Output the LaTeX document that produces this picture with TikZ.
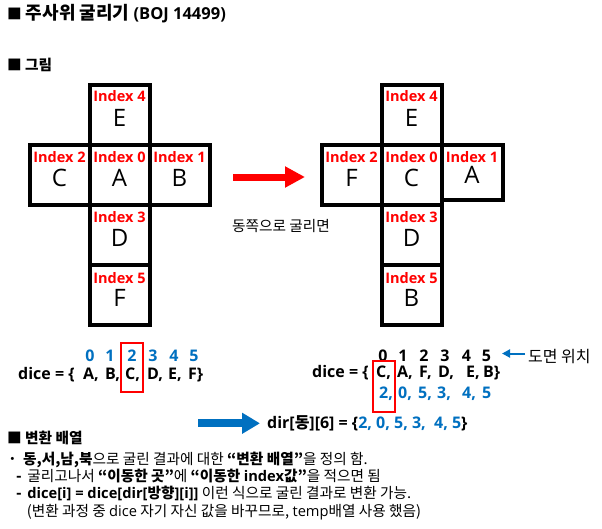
\documentclass[tikz,border=0pt]{standalone}
\usepackage{fontspec}
\setmainfont{Open Sans}
\newfontfamily\kr{Noto Sans CJK KR}
\usetikzlibrary{arrows.meta}
\definecolor{pptblue}{HTML}{0070C0}
\newcommand\sz[1]{\fontsize{#1}{#1}\selectfont}
\tikzset{
	face/.style={draw, line width=4pt, minimum width=60pt, minimum height=60pt, inner sep=0pt, text height=22pt, text depth=0pt, font=\sz{24}},
	idx/.style={text=red, anchor=base, inner sep=0pt, font=\bfseries\sz{14.5}},
	cell/.style={anchor=base west, inner sep=0pt, font=\bfseries\sz{16}},
	slot/.style={anchor=base, inner sep=0pt, font=\bfseries\sz{16}},
	selbox/.style={draw=red, line width=1.3pt, minimum width=22pt, minimum height=49pt, inner sep=0pt},
	head/.style={anchor=base west, inner sep=0pt, font=\kr\bfseries\sz{14.67}},
	txt/.style={anchor=base west, inner sep=0pt, font=\kr\sz{14.67}},
	roll/.style={draw=red, line width=7pt, -{Triangle[length=20pt,width=20pt]}},
	dirarrow/.style={draw=pptblue, line width=8pt, -{Triangle[length=18pt,width=20pt]}},
	posarrow/.style={draw=pptblue, line width=2pt, -{Triangle[length=8pt,width=8pt]}}
}
\begin{document}
\begin{tikzpicture}[x=1pt, y=-1pt]
	\path[use as bounding box, fill=white] (0,0) rectangle (602,528);
	\node[head, font=\kr\bfseries\sz{18}] (title) at (7,19) {{\sz{14.67}■} 주사위 굴리기 {\rmfamily\sz{16.5}(BOJ 14499)}};
	\node[head] (fighead) at (7,70) {■ 그림};
	% before rolling
	\node[face] (l4) at (119.5,115) {E};
	\node[face] (l2) at (59.5,175) {C};
	\node[face] (l0) at (119.5,175) {A};
	\node[face] (l1) at (179.5,175) {B};
	\node[face] (l3) at (119.5,235) {D};
	\node[face] (l5) at (119.5,295) {F};
	\node[idx] (l4i) at ([yshift=-18pt]l4.north) {Index 4};
	\node[idx] (l2i) at ([yshift=-19pt]l2.north) {Index 2};
	\node[idx] (l0i) at ([yshift=-19pt]l0.north) {Index 0};
	\node[idx] (l1i) at ([yshift=-19pt]l1.north) {Index 1};
	\node[idx] (l3i) at ([yshift=-19.5pt]l3.north) {Index 3};
	\node[idx] (l5i) at ([yshift=-20pt]l5.north) {Index 5};
	% roll east
	\coordinate (rollfrom) at (233,177);
	\coordinate (rollto) at (305,177);
	\draw[roll] (rollfrom) -- (rollto);
	\node[txt] (rolltxt) at (232,231) {동쪽으로 굴리면};
	% after rolling
	\node[face] (r4) at (411.5,115) {E};
	\node[face] (r2) at (351.5,175) {F};
	\node[face] (r0) at (411.5,175) {C};
	\node[face, minimum width=61pt, minimum height=55pt] (r1) at (472,172.5) {A};
	\node[face] (r3) at (411.5,235) {D};
	\node[face] (r5) at (411.5,295) {B};
	\node[idx] (r4i) at ([yshift=-18pt]r4.north) {Index 4};
	\node[idx] (r2i) at ([yshift=-19pt]r2.north) {Index 2};
	\node[idx] (r0i) at ([yshift=-19pt]r0.north) {Index 0};
	\node[idx] (r1i) at ([yshift=-19pt]r1.north) {Index 1};
	\node[idx] (r3i) at ([yshift=-19.5pt]r3.north) {Index 3};
	\node[idx] (r5i) at ([yshift=-20pt]r5.north) {Index 5};
	% dice array, before
	\node[slot, text=pptblue] (ln0) at (90,361) {0};
	\node[slot, text=pptblue] (ln1) at (110,361) {1};
	\node[slot, text=pptblue] (ln2) at (132,361) {2};
	\node[slot, text=pptblue] (ln3) at (153,361) {3};
	\node[slot, text=pptblue] (ln4) at (174,361) {4};
	\node[slot, text=pptblue] (ln5) at (194,361) {5};
	\node[cell] (ldice) at (18,379) {dice = \{};
	\node[cell] (la) at (83,379) {A,};
	\node[cell] (lb) at (105,379) {B,};
	\node[cell] (lc) at (125,379) {C,};
	\node[cell] (ld) at (147,379) {D,};
	\node[cell] (le) at (168,379) {E,};
	\node[cell] (lf) at (188,379) {F\}};
	\node[selbox] (lsel) at (132,367.5) {};
	% dice array, after
	\node[slot] (rn0) at (383,361) {0};
	\node[slot] (rn1) at (403,361) {1};
	\node[slot] (rn2) at (424,361) {2};
	\node[slot] (rn3) at (445,361) {3};
	\node[slot] (rn4) at (466.5,361) {4};
	\node[slot] (rn5) at (486.5,361) {5};
	\coordinate (postail) at (525,353.5);
	\coordinate (poshead) at (502,353.5);
	\draw[posarrow] (postail) -- (poshead);
	\node[txt, font=\kr\sz{16}] (postxt) at (528,362) {도면 위치};
	\node[cell] (rdice) at (312,377) {dice = \{};
	\node[cell] (rc) at (376,377) {C,};
	\node[cell] (ra) at (397,377) {A,};
	\node[cell] (rf) at (419,377) {F,};
	\node[cell] (rd) at (438,377) {D,};
	\node[cell] (re) at (466,377) {E,};
	\node[cell] (rb) at (483,377) {B\}};
	\node[cell, text=pptblue] (rv0) at (379,398) {2,};
	\node[cell, text=pptblue] (rv1) at (398,398) {0,};
	\node[cell, text=pptblue] (rv2) at (418,398) {5,};
	\node[cell, text=pptblue] (rv3) at (437,398) {3,};
	\node[cell, text=pptblue] (rv4) at (462,398) {4,};
	\node[cell, text=pptblue] (rv5) at (482,398) {5};
	\node[selbox, minimum height=51pt] (rsel) at (384,386.5) {};
	% transform array
	\coordinate (dirfrom) at (198,423.3);
	\coordinate (dirto) at (260,423.3);
	\draw[dirarrow] (dirfrom) -- (dirto);
	\node[cell] (dirline) at (267,428.3) {dir[{\kr 동}][6] = \{\textcolor{pptblue}{2, 0, 5, 3,\ \ 4, 5}\}};
	\node[head] (convhead) at (7,443) {■ 변환 배열};
	\node[txt] (rule1) at (5,464) {・ \textbf{동,서,남,북}으로 굴린 결과에 대한 \textbf{“변환 배열”}을 정의 함.};
	\node[txt] (rule2) at (16,481) {\textbf{-}\hspace{5.5pt}굴리고나서 \textbf{“이동한 곳”}에 \textbf{“이동한 {\rmfamily index}값”}을 적으면 됨};
	\node[txt] (rule3) at (16,498) {\textbf{-}\hspace{5.5pt}\textbf{{\rmfamily dice[i] = dice[dir[}방향{\rmfamily ][i]]}} 이런 식으로 굴린 결과로 변환 가능.};
	\node[txt] (rule4) at (26.7,516) {(변환 과정 중 {\rmfamily dice} 자기 자신 값을 바꾸므로, {\rmfamily temp}배열 사용 했음)};
\end{tikzpicture}
\end{document}
